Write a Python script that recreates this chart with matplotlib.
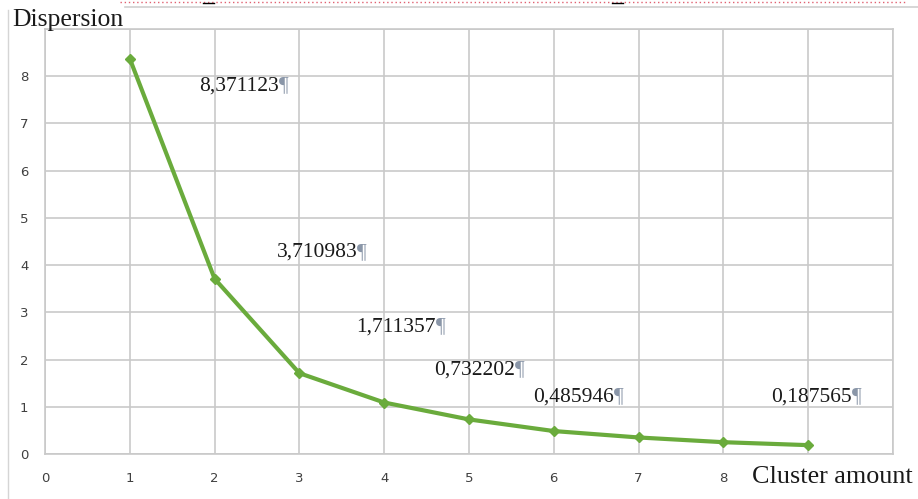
import numpy as np
import matplotlib.pyplot as plt
from matplotlib.lines import Line2D

# data
clusters = [1, 2, 3, 4, 5, 6, 7, 8, 9]
dispersion = [8.371123, 3.710983, 1.711357, 1.09, 0.732202, 0.485946, 0.35, 0.25, 0.187565]
x_ticks = [0, 1, 2, 3, 4, 5, 6, 7, 8]
y_ticks = [0, 1, 2, 3, 4, 5, 6, 7, 8]

# which points got a text label, and where the label sits (data coords)
label_idx = [0, 1, 2, 4, 5, 8]
label_pos = [(1.82, 7.79), (2.73, 4.27), (3.67, 2.69), (4.59, 1.78), (5.76, 1.21), (8.56, 1.21)]

line_color = '#6aab3c'
grid_color = '#c9c9c9'

fig = plt.figure(figsize=(9.18, 4.99), dpi=100)
fig.patch.set_facecolor('white')
ax = fig.add_axes([45 / 918, 45 / 499, 848 / 918, 425 / 499])

ax.plot(clusters, dispersion, color=line_color, linewidth=3, marker='D',
        markersize=5, zorder=3)

ax.set_xlim(0, 10)
ax.set_ylim(0, 9)
ax.set_xticks(np.arange(0, 11))
ax.set_yticks(np.arange(0, 10))
ax.set_xticklabels([str(t) for t in x_ticks] + ['', ''])
ax.set_yticklabels([str(t) for t in y_ticks] + [''])
ax.grid(True, color=grid_color, linewidth=1.2)
ax.set_axisbelow(True)
ax.tick_params(length=0, labelsize=9.5, labelcolor='#404040')
ax.tick_params(axis='x', pad=13)
ax.tick_params(axis='y', pad=12)
for s in ax.spines.values():
    s.set_color(grid_color)
    s.set_linewidth(1.2)

serif = ['Liberation Serif', 'DejaVu Serif']

for i, (lx, ly) in zip(label_idx, label_pos):
    txt = '{:.6f}'.format(dispersion[i]).replace('.', ',')
    t = ax.text(lx, ly, txt, family=serif, fontsize=15.5, va='center', ha='left',
                color='#1a1a1a', zorder=4)
    ax.annotate('¶', xy=(1, 0.5), xycoords=t, va='center', ha='left',
                family=serif, fontsize=15.5, color='#8a96a8', zorder=4)

fig.text(12 / 918, 1 - 20 / 499, 'Dispersion', family=serif, fontsize=18.5,
         va='center', ha='left', color='#1a1a1a')
fig.text(752 / 918, 1 - 477 / 499, 'Cluster amount', family=serif, fontsize=18.8,
         va='center', ha='left', color='#1a1a1a')

# page decorations from the scan
fig.add_artist(Line2D([125 / 918, 1], [1 - 7 / 499] * 2, color='#cfcfcf', linewidth=1.2))
fig.add_artist(Line2D([8 / 918] * 2, [0, 1 - 10 / 499], color='#d5d5d5', linewidth=1))
fig.add_artist(Line2D([120 / 918, 905 / 918], [1 - 2 / 499] * 2, color='#e06070',
                      linewidth=1, linestyle=(0, (1, 2))))
fig.add_artist(Line2D([203 / 918, 214 / 918], [1 - 3 / 499] * 2, color='black', linewidth=1))
fig.add_artist(Line2D([612 / 918, 623 / 918], [1 - 3 / 499] * 2, color='black', linewidth=1))

plt.savefig('out.png', dpi=100, facecolor='white')
